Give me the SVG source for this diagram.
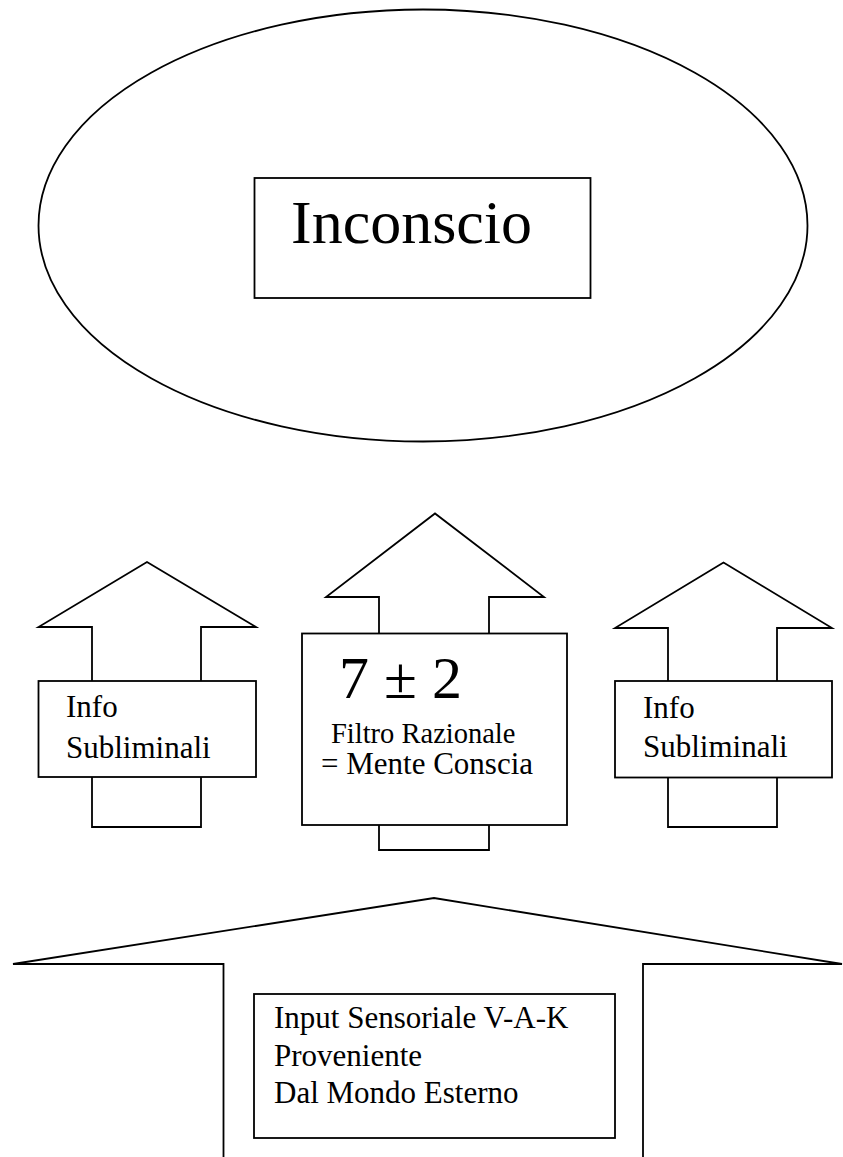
<svg xmlns="http://www.w3.org/2000/svg" width="843" height="1157" viewBox="0 0 843 1157">
  <style>
    .shape { fill: #ffffff; stroke: #000000; stroke-width: 1.8; stroke-linejoin: miter; }
    .open { fill: none; stroke: #000000; stroke-width: 1.8; }
    .t { font-family: "Liberation Serif", "Times New Roman", serif; fill: #000000; }
  </style>
  <rect x="0" y="0" width="843" height="1157" fill="#ffffff"/>

  <g id="ellipse-inconscio">
    <ellipse class="shape" cx="423" cy="225.5" rx="384.5" ry="216"/>
  </g>

  <g id="connectors">
    <polygon class="shape" points="92,827 92,627 38.5,627 147,562 256,627 201,627 201,827"/>
    <polygon class="shape" points="379,850 379,597 326,597 435,513.5 544,597 489,597 489,850"/>
    <polygon class="shape" points="668,827 668,628 615,628 723.5,562.5 832,628 777,628 777,827"/>
    <polyline class="open" points="223.5,1158 223.5,964 13,964 434,898 842,964 643,964 643,1158"/>
  </g>

  <g id="node-inconscio">
    <rect class="shape" x="254.5" y="178" width="336" height="120"/>
    <text class="t" x="291" y="243" font-size="62">Inconscio</text>
  </g>

  <g id="node-info-left">
    <rect class="shape" x="38.5" y="681" width="217.5" height="96"/>
    <text class="t" x="66" y="717" font-size="31">Info</text>
    <text class="t" x="66" y="757.5" font-size="31">Subliminali</text>
  </g>

  <g id="node-filtro">
    <rect class="shape" x="302" y="633.5" width="265" height="191.5"/>
    <text class="t" x="339" y="698" font-size="60">7 ± 2</text>
    <text class="t" x="331" y="743" font-size="28.5">Filtro Razionale</text>
    <text class="t" x="321" y="774" font-size="31">= Mente Conscia</text>
  </g>

  <g id="node-info-right">
    <rect class="shape" x="615" y="681" width="217" height="96.5"/>
    <text class="t" x="643" y="717.5" font-size="31">Info</text>
    <text class="t" x="643" y="757" font-size="31">Subliminali</text>
  </g>

  <g id="node-input">
    <rect class="shape" x="254" y="994" width="361" height="144"/>
    <text class="t" x="274" y="1028" font-size="31">Input Sensoriale V-A-K</text>
    <text class="t" x="274" y="1066" font-size="31">Proveniente</text>
    <text class="t" x="274" y="1103" font-size="31">Dal Mondo Esterno</text>
  </g>
</svg>
